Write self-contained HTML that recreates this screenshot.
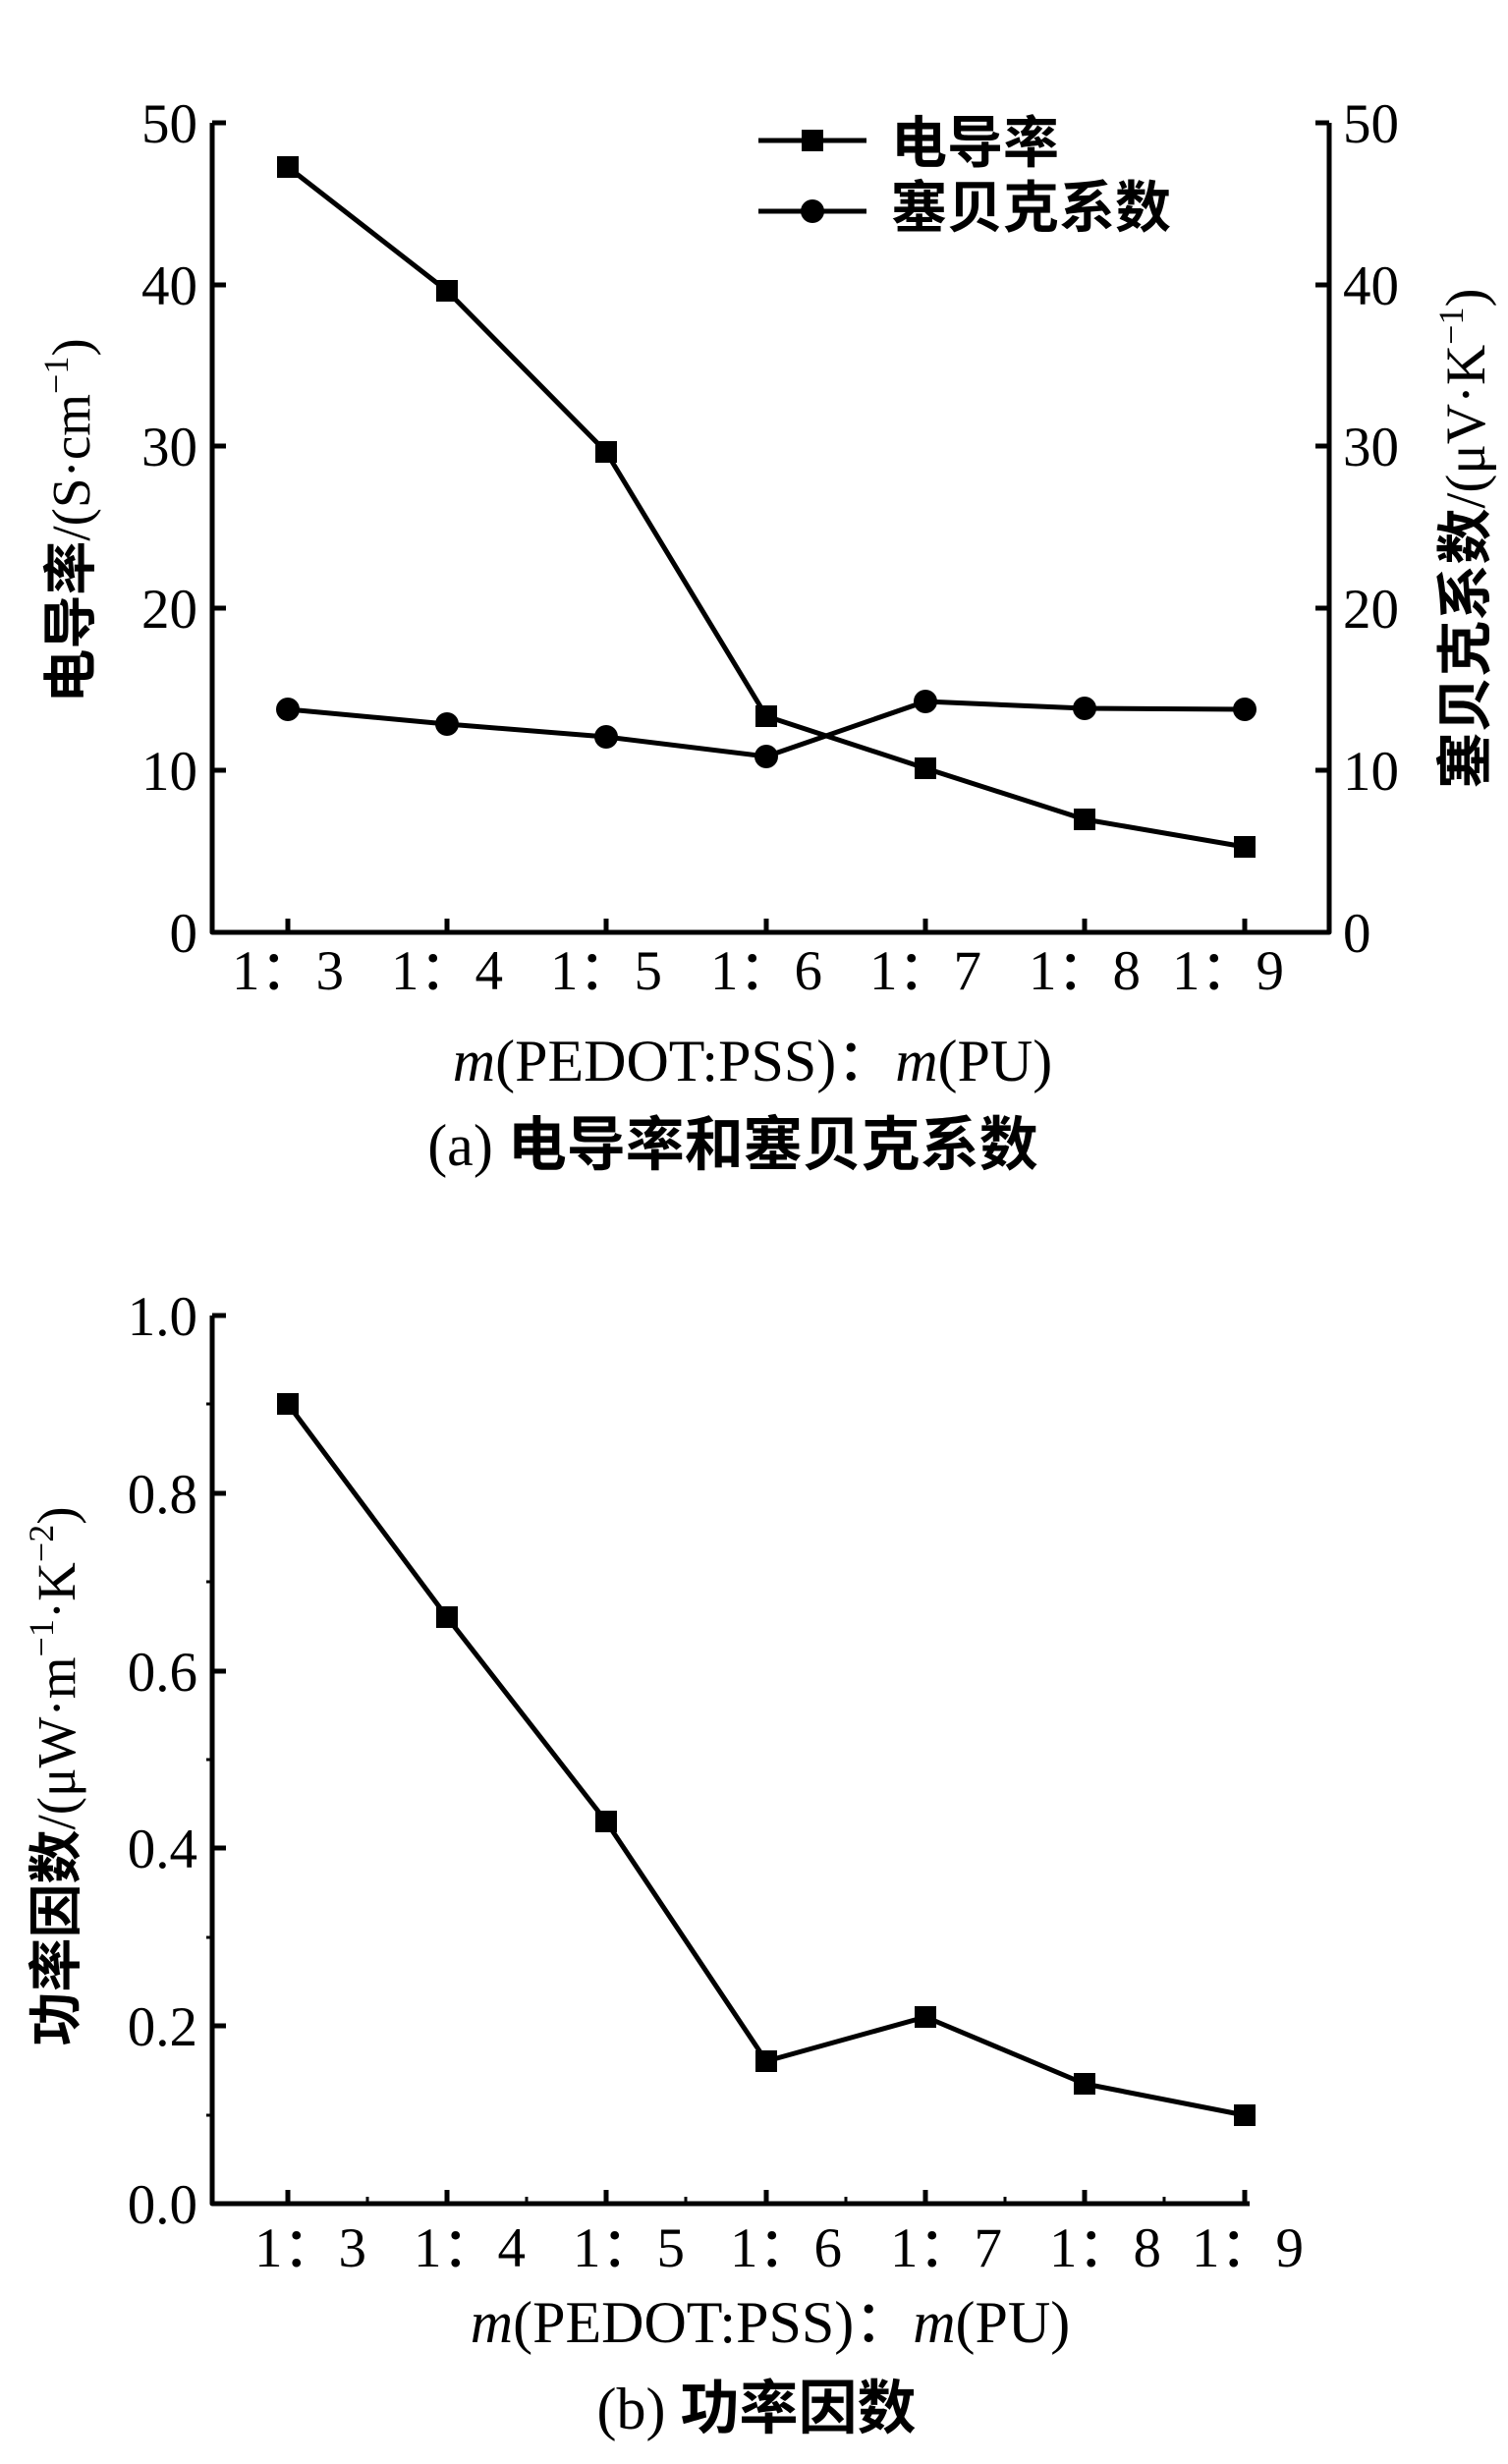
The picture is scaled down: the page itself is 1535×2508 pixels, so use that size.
<!DOCTYPE html>
<html><head><meta charset="utf-8"><style>
html,body{margin:0;padding:0;background:#fff}
svg{display:block}
text{font-family:"Liberation Serif","Noto Sans CJK SC",serif;fill:#000}
.cj{font-family:"Liberation Serif","Noto Sans CJK SC",sans-serif;font-weight:bold}
</style></head><body>
<svg width="1535" height="2508" viewBox="0 0 1535 2508" xmlns="http://www.w3.org/2000/svg">
<g stroke="#000" stroke-width="5" fill="none" stroke-linejoin="round">
<polyline points="216,125 216,949 1353,949 1353,125"/>
<path d="M216,125h14M216,290h14M216,454h14M216,619h14M216,784h14M1353,125h-14M1353,290h-14M1353,454h-14M1353,619h-14M1353,784h-14"/>
<path d="M293,949v-14M455,949v-14M617,949v-14M780,949v-14M942,949v-14M1104,949v-14M1267,949v-14"/>
<polyline points="293,170 455,296 617,460 780,729 942,782 1104,834 1267,862"/>
<polyline points="293,722 455,737 617,750 780,770 942,714 1104,721 1267,722"/>
<path d="M772,143h110M772,215h110"/>
</g>
<g fill="#000">
<rect x="282" y="159" width="22" height="22"/><rect x="444" y="285" width="22" height="22"/><rect x="606" y="449" width="22" height="22"/><rect x="769" y="718" width="22" height="22"/><rect x="931" y="771" width="22" height="22"/><rect x="1093" y="823" width="22" height="22"/><rect x="1256" y="851" width="22" height="22"/>
<circle cx="293" cy="722" r="12"/><circle cx="455" cy="737" r="12"/><circle cx="617" cy="750" r="12"/><circle cx="780" cy="770" r="12"/><circle cx="942" cy="714" r="12"/><circle cx="1104" cy="721" r="12"/><circle cx="1267" cy="722" r="12"/>
<rect x="816" y="132" width="22" height="22"/><circle cx="827" cy="215" r="12"/>
</g>
<g font-size="57" text-anchor="end">
<text x="201" y="145">50</text><text x="201" y="310">40</text><text x="201" y="474">30</text><text x="201" y="639">20</text><text x="201" y="804">10</text><text x="201" y="969">0</text>
</g>
<g font-size="57" text-anchor="start">
<text x="1367" y="145">50</text><text x="1367" y="310">40</text><text x="1367" y="474">30</text><text x="1367" y="639">20</text><text x="1367" y="804">10</text><text x="1367" y="969">0</text>
</g>
<g font-size="57" text-anchor="middle">
<text x="293" y="1007">1：3</text><text x="455" y="1007">1：4</text><text x="617" y="1007">1：5</text><text x="780" y="1007">1：6</text><text x="942" y="1007">1：7</text><text x="1104" y="1007">1：8</text><text x="1250" y="1007">1：9</text>
</g>
<text class="cj" x="907" y="165" font-size="57">电导率</text>
<text class="cj" x="907" y="231" font-size="57">塞贝克系数</text>
<text x="766" y="1100" font-size="60" text-anchor="middle"><tspan font-style="italic">m</tspan>(PEDOT:PSS)：<tspan font-style="italic">m</tspan>(PU)</text>
<text x="746" y="1186" font-size="60" text-anchor="middle">(a) <tspan class="cj">电导率和塞贝克系数</tspan></text>
<text transform="translate(91,530) rotate(-90)" font-size="55" text-anchor="middle"><tspan class="cj">电导率</tspan>/(S·cm<tspan font-size="36" dy="-22">−1</tspan><tspan dy="22">)</tspan></text>
<text transform="translate(1511,548) rotate(-90)" font-size="57" text-anchor="middle"><tspan class="cj">塞贝克系数</tspan>/(μV·K<tspan font-size="36" dy="-22">−1</tspan><tspan dy="22">)</tspan></text>

<g stroke="#000" stroke-width="5" fill="none" stroke-linejoin="round">
<polyline points="216,1339 216,2243 1272,2243"/>
<path d="M216,1339h14M216,1520h14M216,1701h14M216,1881h14M216,2062h14"/>
<path d="M216,1429h-6M216,1610h-6M216,1791h-6M216,1972h-6M216,2153h-6" stroke-width="3"/>
<path d="M293,2243v-14M455,2243v-14M617,2243v-14M780,2243v-14M942,2243v-14M1104,2243v-14M1267,2243v-14"/>
<path d="M374,2243v-7M536,2243v-7M698,2243v-7M861,2243v-7M1023,2243v-7M1185,2243v-7" stroke-width="3"/>
<polyline points="293,1429 455,1646 617,1854 780,2098 942,2053 1104,2121 1267,2153"/>
</g>
<g fill="#000">
<rect x="282" y="1418" width="22" height="22"/><rect x="444" y="1635" width="22" height="22"/><rect x="606" y="1843" width="22" height="22"/><rect x="769" y="2087" width="22" height="22"/><rect x="931" y="2042" width="22" height="22"/><rect x="1093" y="2110" width="22" height="22"/><rect x="1256" y="2142" width="22" height="22"/>
</g>
<g font-size="57" text-anchor="end">
<text x="201" y="1359">1.0</text><text x="201" y="1540">0.8</text><text x="201" y="1721">0.6</text><text x="201" y="1901">0.4</text><text x="201" y="2082">0.2</text><text x="201" y="2263">0.0</text>
</g>
<g font-size="57" text-anchor="middle">
<text x="316" y="2307">1：3</text><text x="478" y="2307">1：4</text><text x="640" y="2307">1：5</text><text x="800" y="2307">1：6</text><text x="963" y="2307">1：7</text><text x="1125" y="2307">1：8</text><text x="1270" y="2307">1：9</text>
</g>
<text x="784" y="2384" font-size="60" text-anchor="middle"><tspan font-style="italic">m</tspan>(PEDOT:PSS)：<tspan font-style="italic">m</tspan>(PU)</text>
<text x="770" y="2472" font-size="60" text-anchor="middle">(b) <tspan class="cj">功率因数</tspan></text>
<text transform="translate(76,1808) rotate(-90)" font-size="55" text-anchor="middle"><tspan class="cj">功率因数</tspan>/(μW·m<tspan font-size="36" dy="-22">−1</tspan><tspan dy="22">·K</tspan><tspan font-size="36" dy="-22">−2</tspan><tspan dy="22">)</tspan></text>
</svg>
</body></html>
